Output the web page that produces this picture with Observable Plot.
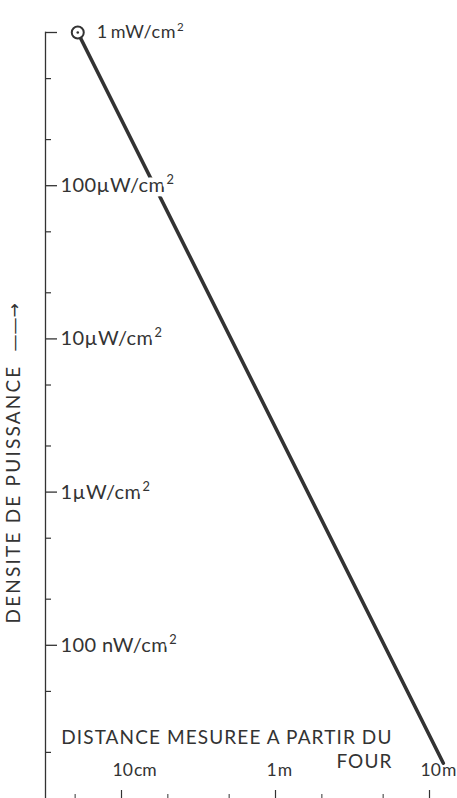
<!DOCTYPE html>
<html>
<head>
<meta charset="utf-8">
<script src="https://cdn.jsdelivr.net/npm/d3@7"></script>
<script src="https://cdn.jsdelivr.net/npm/@observablehq/plot@0.6"></script>
<style>
  html, body { margin: 0; padding: 0; background: #fff; overflow: hidden; }
  #chart svg { display: block; }
</style>
</head>
<body>
<div id="chart"></div>
<script>
// ---- data ----
// distance from the oven (m) and power density (µW/cm²)
const distance = [0.052, 12.3];
const density = [1000, 0.017];

// y axis (µW/cm²)
const yMajorTicks = [100, 10, 1, 0.1];
const yMajorLabels = ["100µW/cm²", "10µW/cm²", "1µW/cm²", "100 nW/cm²"];
const yTopTick = [1000];
const yTopLabel = ["1\u2009mW/cm²"];
const yMinorTicks = [500, 200, 50, 20, 5, 2, 0.5, 0.2, 0.05, 0.02];

// x axis (m)
const xMajorTicks = [0.1, 1, 10];
const xMajorLabels = ["10\u200Acm", "1\u200Am", "10\u200Am"];
const xMinorTicks = [0.05, 0.2, 0.5, 2, 5];

const yTitle = "DENSITE DE PUISSANCE";
const yArrow = "——→";
const xTitle = "DISTANCE MESUREE A PARTIR DU\nFOUR";

// ---- build ----
const lineData = distance.map((d, i) => ({distance: d, density: density[i]}));
const yLabelData = yMajorTicks.map((v, i) => ({v, label: yMajorLabels[i]}));
const xLabelData = xMajorTicks.map((v, i) => ({v, label: xMajorLabels[i]}));
const ink = "#333";
const font = "Lato, 'Open Sans', sans-serif";

const chart = Plot.plot({
  width: 457,
  height: 798,
  marginLeft: 45,
  marginRight: 2,
  marginTop: 32,
  marginBottom: 0,
  style: {fontFamily: font, color: ink, background: "#fff"},
  x: {type: "log", domain: [0.0321, 14.75]},
  y: {type: "log", domain: [0.01, 1000]},
  marks: [
    Plot.frame({anchor: "left", stroke: ink, strokeWidth: 1.3}),
    Plot.axisY([...yTopTick, ...yMajorTicks], {tickSize: -12, tickFormat: () => "", label: null, stroke: ink, strokeWidth: 1.3}),
    Plot.axisY(yMinorTicks, {tickSize: -6, tickFormat: () => "", label: null, stroke: ink, strokeWidth: 1.2}),
    Plot.axisX(xMajorTicks, {tickSize: -8, tickFormat: () => "", label: null, stroke: ink, strokeWidth: 1.2}),
    Plot.axisX(xMinorTicks, {tickSize: -4, tickFormat: () => "", label: null, stroke: ink, strokeWidth: 1}),
    Plot.line(lineData, {x: "distance", y: "density", stroke: ink, strokeWidth: 3.6}),
    Plot.dot(lineData.slice(0, 1), {x: "distance", y: "density", r: 6, fill: "#fff", stroke: ink, strokeWidth: 2}),
    Plot.dot(lineData.slice(0, 1), {x: "distance", y: "density", r: 1.3, fill: ink, stroke: null}),
    Plot.text(yLabelData, {
      y: "v", text: "label", frameAnchor: "left", dx: 15, textAnchor: "start",
      fontSize: 20, fill: ink, stroke: "#fff", strokeWidth: 9, paintOrder: "stroke"
    }),
    Plot.text(yTopTick, {
      x: () => distance[0], y: d => d, text: (d, i) => yTopLabel[i], dx: 19, textAnchor: "start",
      fontSize: 18, fill: ink
    }),
    Plot.text(xLabelData, {
      x: "v", text: "label", frameAnchor: "bottom", dy: -23, dx: -9, textAnchor: "start",
      fontSize: 17.5, fill: ink
    }),
    Plot.text([xTitle], {
      text: d => d, frameAnchor: "bottom-left", dx: 347, dy: -31, textAnchor: "end",
      lineAnchor: "bottom", lineHeight: 1.25, fontSize: 19, fill: ink
    }),
    Plot.text([yTitle], {
      text: d => d, frameAnchor: "bottom-left", dx: -26, dy: -175, rotate: -90, textAnchor: "start",
      fontSize: 19, fill: ink
    }),
    Plot.text([yArrow], {
      text: d => d, frameAnchor: "bottom-left", dx: -26, dy: -447, rotate: -90, textAnchor: "start",
      fontSize: 17, fill: ink, fontFamily: "DejaVu Sans"
    })
  ]
});

// letter spacing (the original typeface is wider than the installed ones)
const spacing = new Map([
  [yTitle, "2.2px"],
  [xTitle.replace("\n", ""), "1.1px"],
  ...yMajorLabels.map(l => [l, "0.4px"]),
  ...yTopLabel.map(l => [l, "0.6px"])
]);
d3.select(chart).selectAll("text").each(function () {
  const s = spacing.get(this.textContent);
  if (s) this.setAttribute("letter-spacing", s);
});

// render the "²" of the units as a raised, smaller "2" (still real text)
d3.select(chart).selectAll("text").each(function () {
  const t = this.textContent;
  if (this.childElementCount === 0 && t.endsWith("²")) {
    const el = d3.select(this);
    el.text(t.slice(0, -1));
    el.append("tspan").attr("dx", "0.08em").attr("dy", "-0.62em").attr("font-size", "0.64em").text("2");
  }
});
document.getElementById("chart").appendChild(chart);
</script>
</body>
</html>
